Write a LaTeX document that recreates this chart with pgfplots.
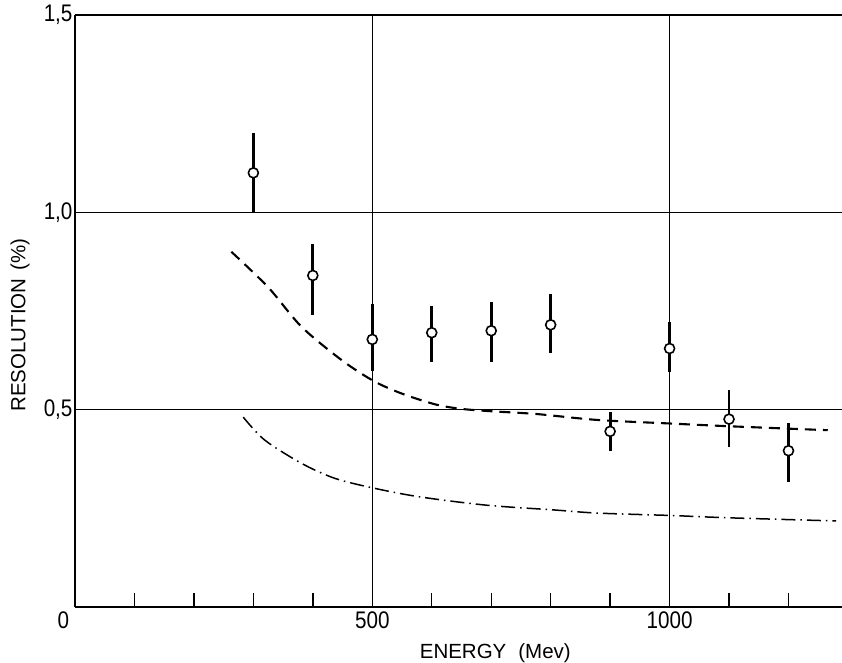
\documentclass[border=0pt]{standalone}
\usepackage{fontspec}
\setmainfont{Liberation Sans}
\newfontfamily\tickfont[FakeStretch=0.86]{Liberation Sans}
\usepackage{pgfplots}
\usepackage{pgfplotstable}
\pgfplotsset{compat=1.18}

\pgfplotstableread{
x y ep em
300 1.100 0.100 0.100
400 0.840 0.080 0.100
500 0.678 0.090 0.080
600 0.695 0.068 0.075
700 0.700 0.074 0.080
800 0.715 0.078 0.072
900 0.445 0.050 0.050
1000 0.655 0.068 0.060
1100 0.476 0.074 0.070
1200 0.396 0.070 0.080
}\datapts

\pgfplotstableread{
x y
263 0.900
325 0.810
381 0.710
449 0.625
503 0.572
551 0.540
607 0.513
650 0.502
700 0.496
776 0.489
878 0.474
1000 0.465
1100 0.458
1266 0.448
}\curveupper

\pgfplotstableread{
x y
283 0.481
319 0.423
381 0.364
437 0.326
503 0.301
580 0.279
692 0.258
805 0.246
878 0.238
1000 0.232
1100 0.226
1280 0.218
}\curvelower

\begin{document}
\begin{tikzpicture}
\begin{axis}[
  scale only axis,
  width=767pt, height=592pt,
  xmin=0, xmax=1290, ymin=0, ymax=1.5,
  axis x line*=bottom, axis y line*=left,
  axis line style={-, line width=1.8pt},
  xtick={0,500,1000},
  xticklabels={\makebox[0pt][r]{0\hspace{6pt}},\mbox{500},\mbox{1000}},
  minor xtick={100,200,300,400,600,700,800,900,1100,1200},
  ytick={0.5,1.0,1.5},
  yticklabels={\mbox{0,5},\mbox{1,0},\mbox{1,5}},
  tick align=inside,
  major tick length=0pt,
  minor tick length=14pt,
  minor tick style={line width=1.4pt, black},
  grid=major,
  major grid style={solid, black, line width=1.3pt},
  ticklabel style={font=\tickfont\fontsize{24}{24}\selectfont},
  xticklabel style={yshift=-1pt},
  yticklabel style={xshift=1pt},
  xlabel={ENERGY\hspace{12pt}(Mev)},
  ylabel={RESOLUTION\hspace{8pt}(\%)},
  label style={font=\fontsize{20.5}{20.5}\selectfont},
  xlabel style={at={(axis description cs:0.548,-0.0878)}, anchor=base},
  ylabel style={at={(axis description cs:-0.0717,0.476)}, anchor=center},
  clip=false,
]
% error bars
\addplot[draw=none, mark=none, line width=2.6pt,
  error bars/.cd, y dir=both, y explicit, error mark=none,
  error bar style={line width=2.8pt, black}]
  table[x=x, y=y, y error plus=ep, y error minus=em] {\datapts};
% circles
\addplot[only marks, mark=*, mark size=5pt,
  mark options={fill=white, draw=black, line width=1.6pt}]
  table[x=x, y=y] {\datapts};
% dashed curve
\addplot[smooth, black, line width=2.1pt, dash pattern=on 11pt off 7pt]
  table[x=x, y=y] {\curveupper};
% lower curve
\addplot[smooth, black, line width=1.5pt, dash pattern=on 14pt off 5pt on 1.5pt off 5pt]
  table[x=x, y=y] {\curvelower};
\end{axis}
\pgfresetboundingbox
\useasboundingbox ([xshift=-75pt, yshift=-55pt]current axis.south west) rectangle ([xshift=0pt, yshift=15pt]current axis.north east);
\end{tikzpicture}
\end{document}
